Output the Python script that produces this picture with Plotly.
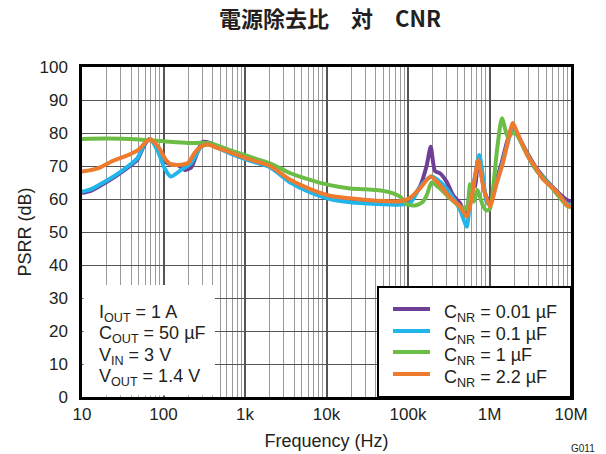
import plotly.graph_objects as go

# ---------------- data ----------------
freq_c001 = [10, 13, 19, 30, 48, 56, 64, 70, 86, 103, 123, 150, 182, 218, 250, 300, 370,
             650, 1140, 2030, 3600, 6300, 11000, 19500, 41000, 80000, 106000, 140000,
             169000, 190000, 214000, 247000, 298000, 356000, 435000, 500000, 545000,
             576000, 664000, 720000, 800000, 881000, 1010000, 1230000, 1410000, 1630000,
             1930000, 2160000, 2890000, 3830000, 6000000, 8900000, 10000000]
psrr_c001 = [61.8, 62.5, 64.8, 68, 72, 75.5, 77.8, 78, 75.5, 71.5, 70.5, 70.3, 68.8, 69.5,
             73, 77.3, 77, 74, 71.8, 69.8, 65.2, 62.2, 60.3, 59.4, 59, 59, 59.7, 63.7,
             70, 75.8, 68.5, 67.8, 65.2, 61.2, 58.7, 55.6, 58, 62.7, 64, 71.8, 67, 61.8,
             58.7, 66, 71, 77, 82.5, 80, 74, 69, 63.5, 59.7, 59.3]

freq_c01 = [10, 13, 19, 30, 48, 56, 64, 70, 86, 103, 123, 164, 218, 280, 320, 372, 650,
            1140, 2030, 3600, 6300, 11000, 19500, 41000, 80000, 106000, 140000, 169000,
            195000, 247000, 327000, 435000, 525000, 560000, 633000, 750000, 839000,
            924000, 1010000, 1230000, 1410000, 1630000, 1930000, 2160000, 2890000,
            3830000, 6000000, 8900000, 10000000]
psrr_c01 = [62.2, 63, 65.2, 68.3, 72.4, 75.9, 77.9, 78, 74.3, 69.3, 66.8, 68.8, 70.9, 75.4,
            76.4, 76.4, 73.9, 71.6, 69.6, 65, 62, 60, 59, 58.5, 58.3, 58.7, 63.5, 65.8,
            66.8, 65.2, 61.8, 56.7, 51.6, 56, 64, 73.3, 66, 59, 58.5, 65, 70, 76, 81.5,
            80, 73.5, 68.5, 63.3, 58.5, 58]

freq_c1 = [10, 20, 50, 100, 200, 372, 650, 1140, 2030, 3600, 6300, 11000, 19500, 41000,
           60000, 80000, 96000, 120000, 150000, 169000, 195000, 247000, 327000, 435000,
           500000, 545000, 576000, 645000, 708000, 839000, 924000, 1010000, 1236000,
           1420000, 1690000, 1890000, 2160000, 2890000, 3830000, 6000000, 8900000,
           10000000]
psrr_c1 = [78.2, 78.3, 78, 77.5, 77, 76.9, 74.8, 72.8, 70.8, 67.8, 65.8, 64.2, 63.2, 62.7,
           62, 60.7, 58.5, 58, 59, 61, 65, 63.2, 60.2, 57.7, 56.7, 58.5, 64.5, 59.2, 62.7,
           57.7, 56.5, 57, 74.8, 84.5, 78.5, 80, 79.5, 73.5, 68.5, 63, 58, 57.5]

freq_c22 = [10, 15.7, 22.7, 36.7, 48.6, 58.8, 67.5, 86, 107, 123, 150, 200, 240, 290, 350,
            465, 650, 1140, 2030, 3600, 6300, 11000, 19500, 41000, 80000, 106000, 140000,
            190000, 247000, 327000, 435000, 525000, 600000, 664000, 728000, 839000,
            1010000, 1225000, 1460000, 1630000, 1930000, 2160000, 2890000, 3830000,
            4530000, 6000000, 7300000, 8900000, 10000000]
psrr_c22 = [68.3, 69.3, 71.3, 73.3, 74.8, 76.9, 78.2, 75.9, 71.8, 70.5, 70.3, 70.9, 73.9,
            75.9, 76.5, 75.4, 74.2, 72, 70, 65.8, 63, 61, 60.2, 59.5, 59.3, 60.3, 63.2,
            66.8, 64.2, 60.5, 57.7, 54.6, 60, 66.8, 71.8, 63.7, 57.7, 64.8, 70.9, 76, 83,
            80.5, 73.5, 68.8, 66, 63.3, 61, 58.2, 57.5]

series_names = ["C<sub>NR</sub> = 0.01 µF", "C<sub>NR</sub> = 0.1 µF",
                "C<sub>NR</sub> = 1 µF", "C<sub>NR</sub> = 2.2 µF"]
series_colors = ["#6F3F98", "#22B5E9", "#6CBD45", "#EE7A2D"]

x_tick_vals = [10, 100, 1000, 10000, 100000, 1000000, 10000000]
x_tick_text = ["10", "100", "1k", "10k", "100k", "1M", "10M"]
x_minor_vals = [m * d for d in [10, 100, 1000, 10000, 100000, 1000000] for m in range(2, 10)]

cond_lines = ["I<sub>OUT</sub> = 1 A", "C<sub>OUT</sub> = 50 µF",
              "V<sub>IN</sub> = 3 V", "V<sub>OUT</sub> = 1.4 V"]

title_text = "電源除去比　対　CNR"

# ---------------- layout helpers (pixel -> paper) ----------------
PL, PR, PT, PB = 82, 571, 67, 397
W, H = PR - PL, PB - PT


def px(x):
    return (x - PL) / W


def py(y):
    return (PB - y) / H


FONT = "Liberation Sans, Arial, Helvetica, sans-serif"
TXT = "#231F20"

fig = go.Figure()
for fx, fy, name, col in zip([freq_c001, freq_c01, freq_c1, freq_c22],
                             [psrr_c001, psrr_c01, psrr_c1, psrr_c22],
                             series_names, series_colors):
    fig.add_trace(go.Scatter(x=fx, y=fy, mode="lines", name=name, showlegend=False,
                             line=dict(color=col, width=4, shape="spline", smoothing=0.6)))

# white box behind the condition text (covers grid only; no data there)
fig.add_shape(type="rect", xref="paper", yref="paper", x0=px(PL + 1.5), x1=px(215),
              y0=py(PB - 1.5), y1=py(285), fillcolor="white", line=dict(width=0),
              layer="above")

cond_y = [313, 334, 356, 377]
for txt, yc in zip(cond_lines, cond_y):
    fig.add_annotation(text=txt, xref="paper", yref="paper", x=px(97), y=py(yc),
                       xanchor="left", yanchor="middle", showarrow=False,
                       font=dict(family=FONT, size=18, color=TXT))

# legend box
fig.add_shape(type="rect", xref="paper", yref="paper", x0=px(378), x1=px(PR),
              y0=py(PB), y1=py(287), fillcolor="white",
              line=dict(color="black", width=2), layer="above")
leg_rows = [309, 331, 352, 374]
for name, col, yr in zip(series_names, series_colors, leg_rows):
    fig.add_shape(type="line", xref="paper", yref="paper", x0=px(393), x1=px(430),
                  y0=py(yr), y1=py(yr), line=dict(color=col, width=4), layer="above")
    fig.add_annotation(text=name, xref="paper", yref="paper", x=px(442), y=py(yr + 4),
                       xanchor="left", yanchor="middle", showarrow=False,
                       font=dict(family=FONT, size=18, color=TXT))

fig.add_annotation(text="G011", xref="paper", yref="paper", x=px(583), y=py(448),
                   xanchor="center", yanchor="middle", showarrow=False,
                   font=dict(family=FONT, size=10, color=TXT))

fig.update_layout(
    width=606, height=454,
    margin=dict(l=PL, r=606 - PR, t=PT, b=454 - PB),
    paper_bgcolor="white", plot_bgcolor="white",
    font=dict(family=FONT, color=TXT),
    title=dict(text=title_text, x=330 / 606, xref="container", xanchor="center",
               y=1 - 19 / 454, yref="container", yanchor="middle",
               font=dict(family="Noto Sans CJK JP", size=22, color=TXT, weight="bold")),
    showlegend=False,
)

fig.update_xaxes(type="log", range=[1, 7], tickmode="array", tickvals=x_tick_vals,
                 ticktext=x_tick_text, automargin=False,
                 showgrid=True, gridcolor="#555555", gridwidth=1.5,
                 minor=dict(tickmode="array", tickvals=x_minor_vals, showgrid=True,
                            gridcolor="#9A9A9A", gridwidth=1, ticks=""),
                 showline=True, linecolor="black", linewidth=2.5, mirror=True,
                 ticks="", tickfont=dict(size=17, color=TXT),
                 title=dict(text="Frequency (Hz)", font=dict(size=18, color=TXT), standoff=12),
                 zeroline=False)
fig.update_yaxes(range=[0, 100], dtick=10, automargin=False,
                 showgrid=True, gridcolor="#555555", gridwidth=1.3,
                 showline=True, linecolor="black", linewidth=2.5, mirror=True,
                 ticks="", ticklabelstandoff=8, tickfont=dict(size=17, color=TXT),
                 title=dict(text="PSRR (dB)", font=dict(size=18, color=TXT), standoff=4),
                 zeroline=False)

fig.write_html("out.html")
